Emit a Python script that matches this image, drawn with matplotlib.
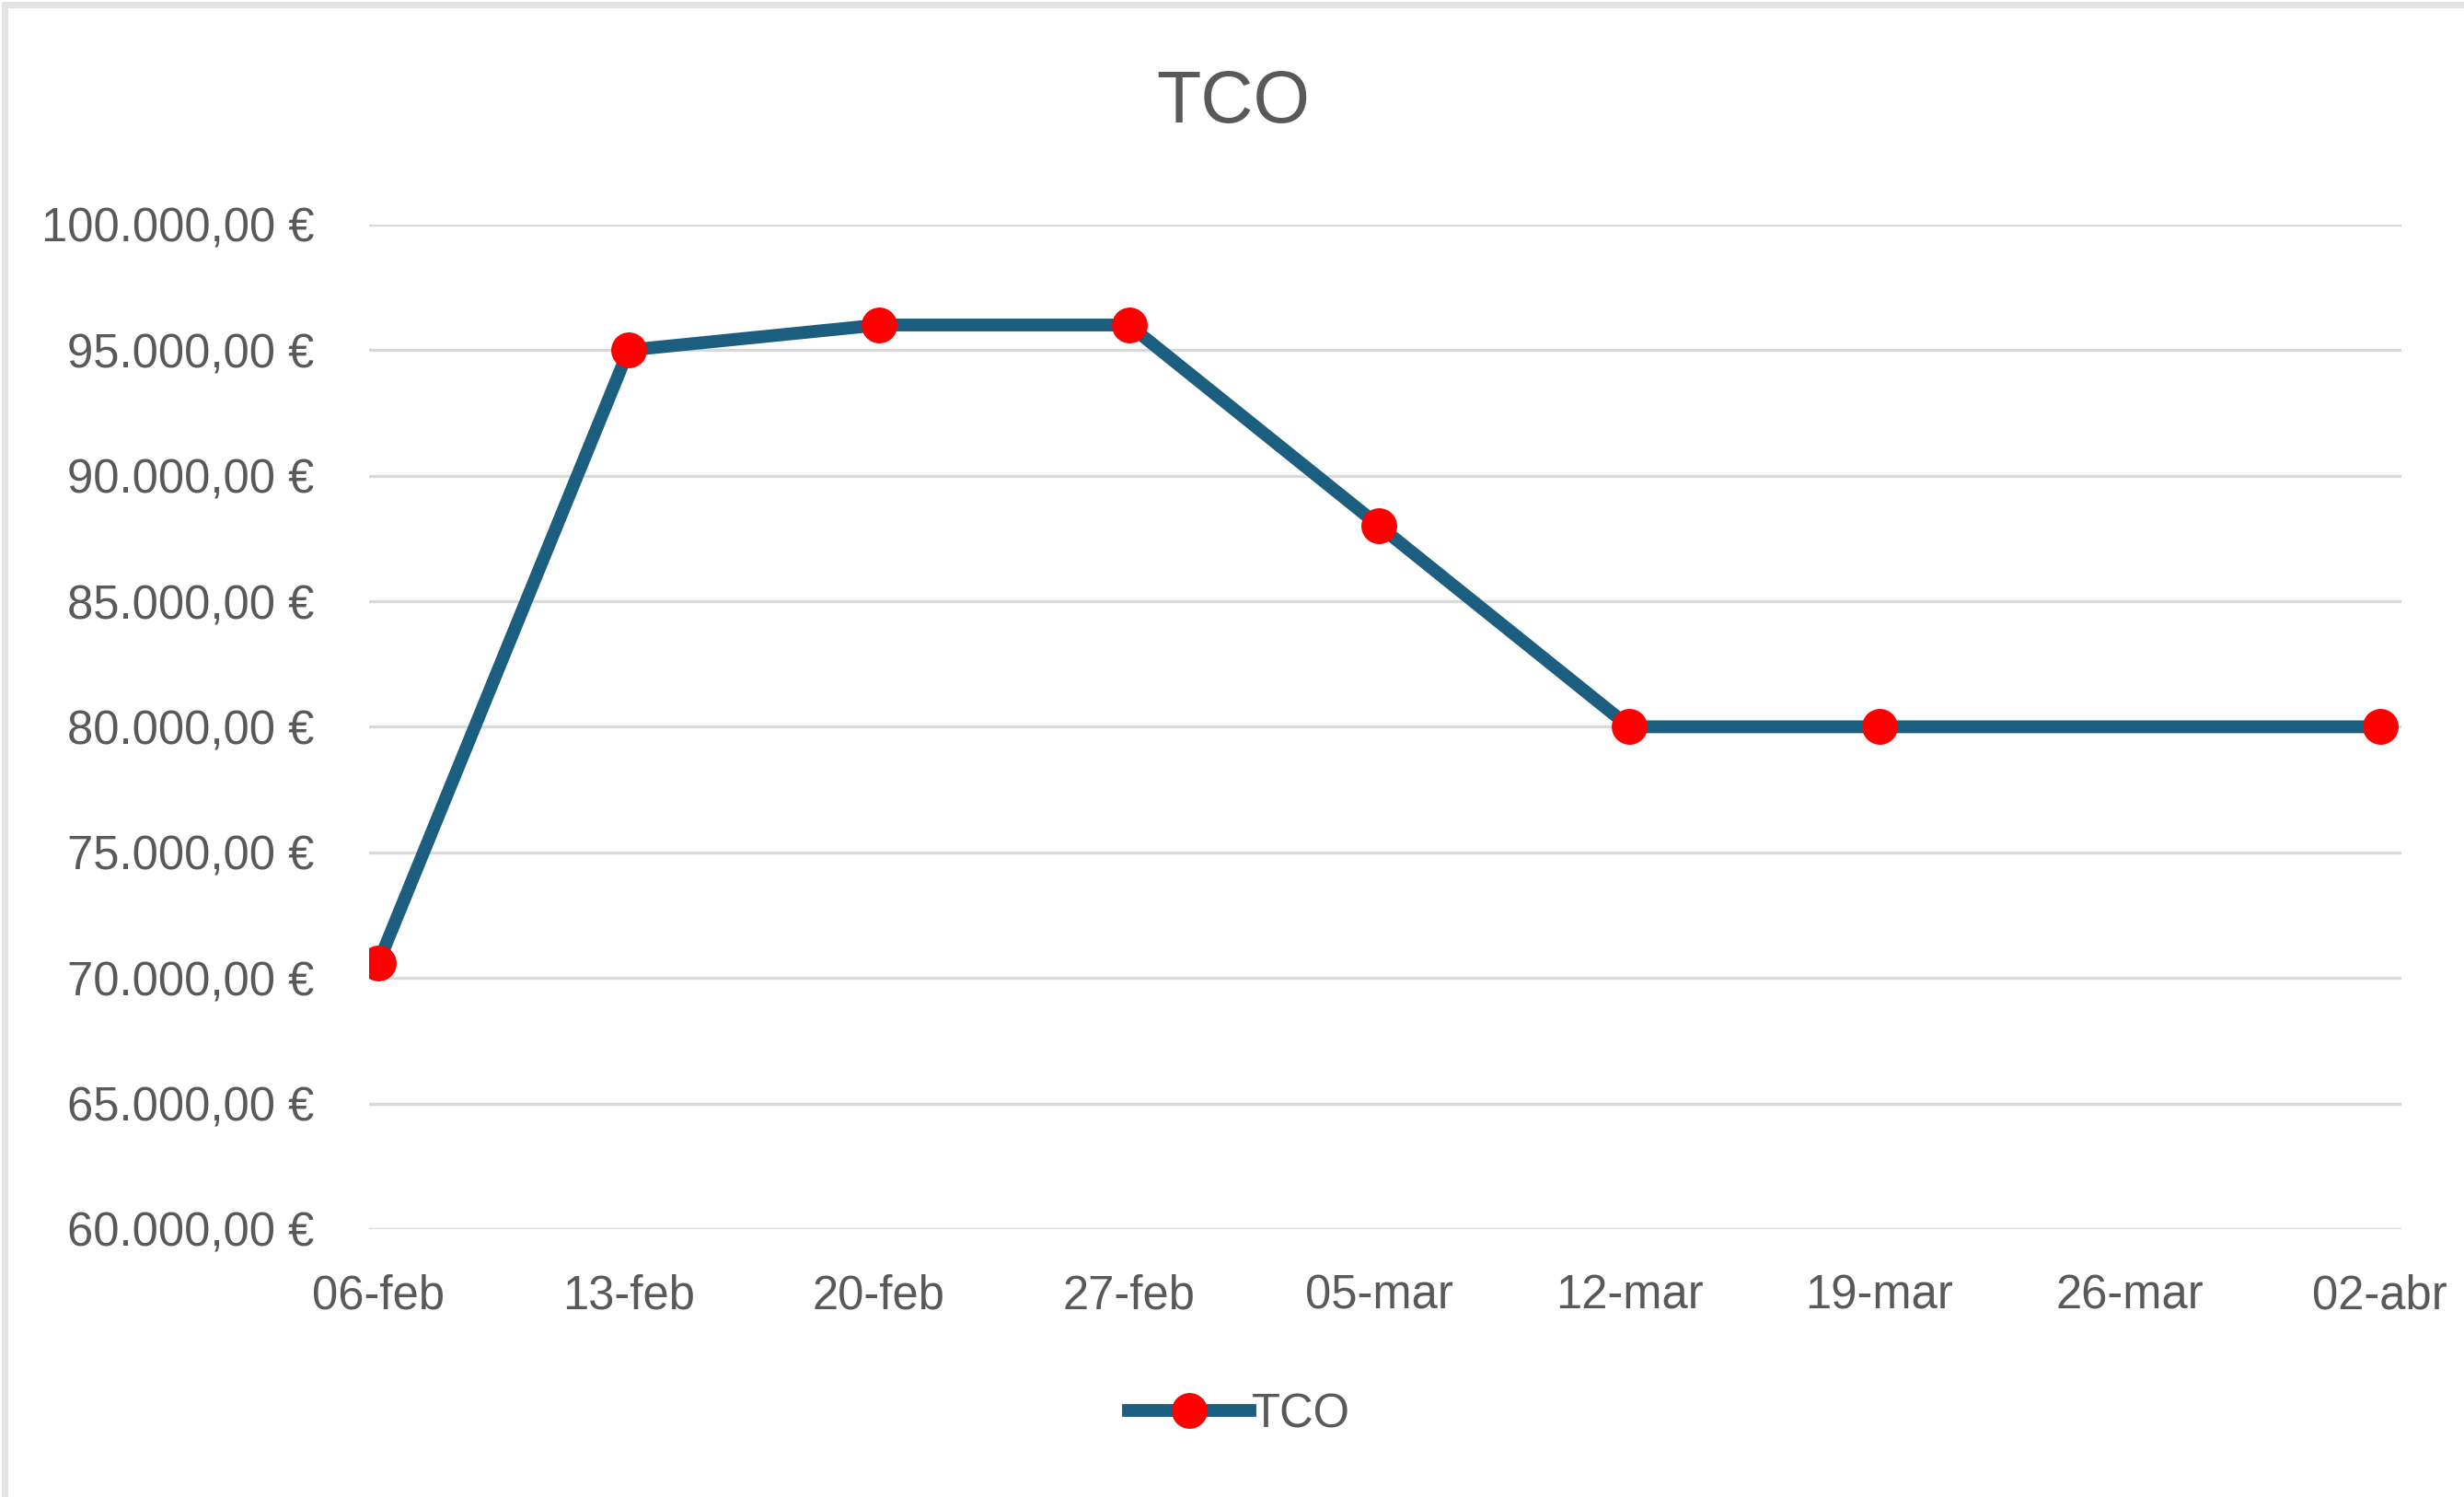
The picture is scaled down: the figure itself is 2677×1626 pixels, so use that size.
import matplotlib
matplotlib.use("Agg")
import matplotlib.pyplot as plt
import matplotlib.dates as mdates
from matplotlib.ticker import FuncFormatter
from matplotlib.patches import Rectangle
import pandas as pd

plt.rcParams['font.family'] = ['Liberation Sans', 'DejaVu Sans']

# data
dates = ['2024-02-06', '2024-02-13', '2024-02-20', '2024-02-27',
         '2024-03-05', '2024-03-12', '2024-03-19', '2024-04-02']
tco = [70600, 95000, 96000, 96000, 88000, 80000, 80000, 80000]

tick_dates = ['2024-02-06', '2024-02-13', '2024-02-20', '2024-02-27', '2024-03-05',
              '2024-03-12', '2024-03-19', '2024-03-26', '2024-04-02']
tick_labels = ['06-feb', '13-feb', '20-feb', '27-feb', '05-mar',
               '12-mar', '19-mar', '26-mar', '02-abr']
y_ticks = [60000, 65000, 70000, 75000, 80000, 85000, 90000, 95000, 100000]

x = pd.to_datetime(dates)
xt = pd.to_datetime(tick_dates)

text_col = '#595959'
line_col = '#1B5E80'
grid_col = '#D9D9D9'

fig = plt.figure(figsize=(26.77, 16.26), dpi=100)
ax = fig.add_axes([0.1498, 0.179, 0.8248, 0.671])

ax.plot(x, tco, color=line_col, lw=10, solid_joinstyle='round', zorder=3,
        marker='o', markersize=28, markerfacecolor='#FF0000',
        markeredgecolor='#FF0000', markeredgewidth=0, label='TCO')

ax.set_ylim(60000, 100000)
ax.set_yticks(y_ticks)
ax.yaxis.set_major_formatter(FuncFormatter(
    lambda v, p: '{:,.2f} €'.format(v).replace(',', 'X').replace('.', ',').replace('X', '.')))

ax.set_xticks(xt)
ax.set_xticklabels(tick_labels)
x0 = mdates.date2num(xt[0]) - 0.26
x1 = mdates.date2num(xt[-1]) + 0.6
ax.set_xlim(x0, x1)

ax.grid(axis='y', color=grid_col, lw=2.4, zorder=0)
ax.set_axisbelow(True)
for s in ax.spines.values():
    s.set_visible(False)
ax.tick_params(axis='both', length=0, labelsize=36.5, colors=text_col)
ax.tick_params(axis='y', pad=43)
ax.tick_params(axis='x', pad=35)

fig.text(0.5006, 0.931, 'TCO', ha='center', va='center', fontsize=57, color=text_col)

fig.legend(loc='center', bbox_to_anchor=(0.503, 0.055), frameon=False,
           fontsize=36.5, labelcolor=text_col, handlelength=2.6, handletextpad=0.05)

# chart border
fig.patches.append(Rectangle((0.002, -0.05), 1.05, 1.047, transform=fig.transFigure,
                             fill=False, edgecolor='#E3E3E3', lw=5))

fig.savefig('out.png', dpi=100, facecolor='white')
